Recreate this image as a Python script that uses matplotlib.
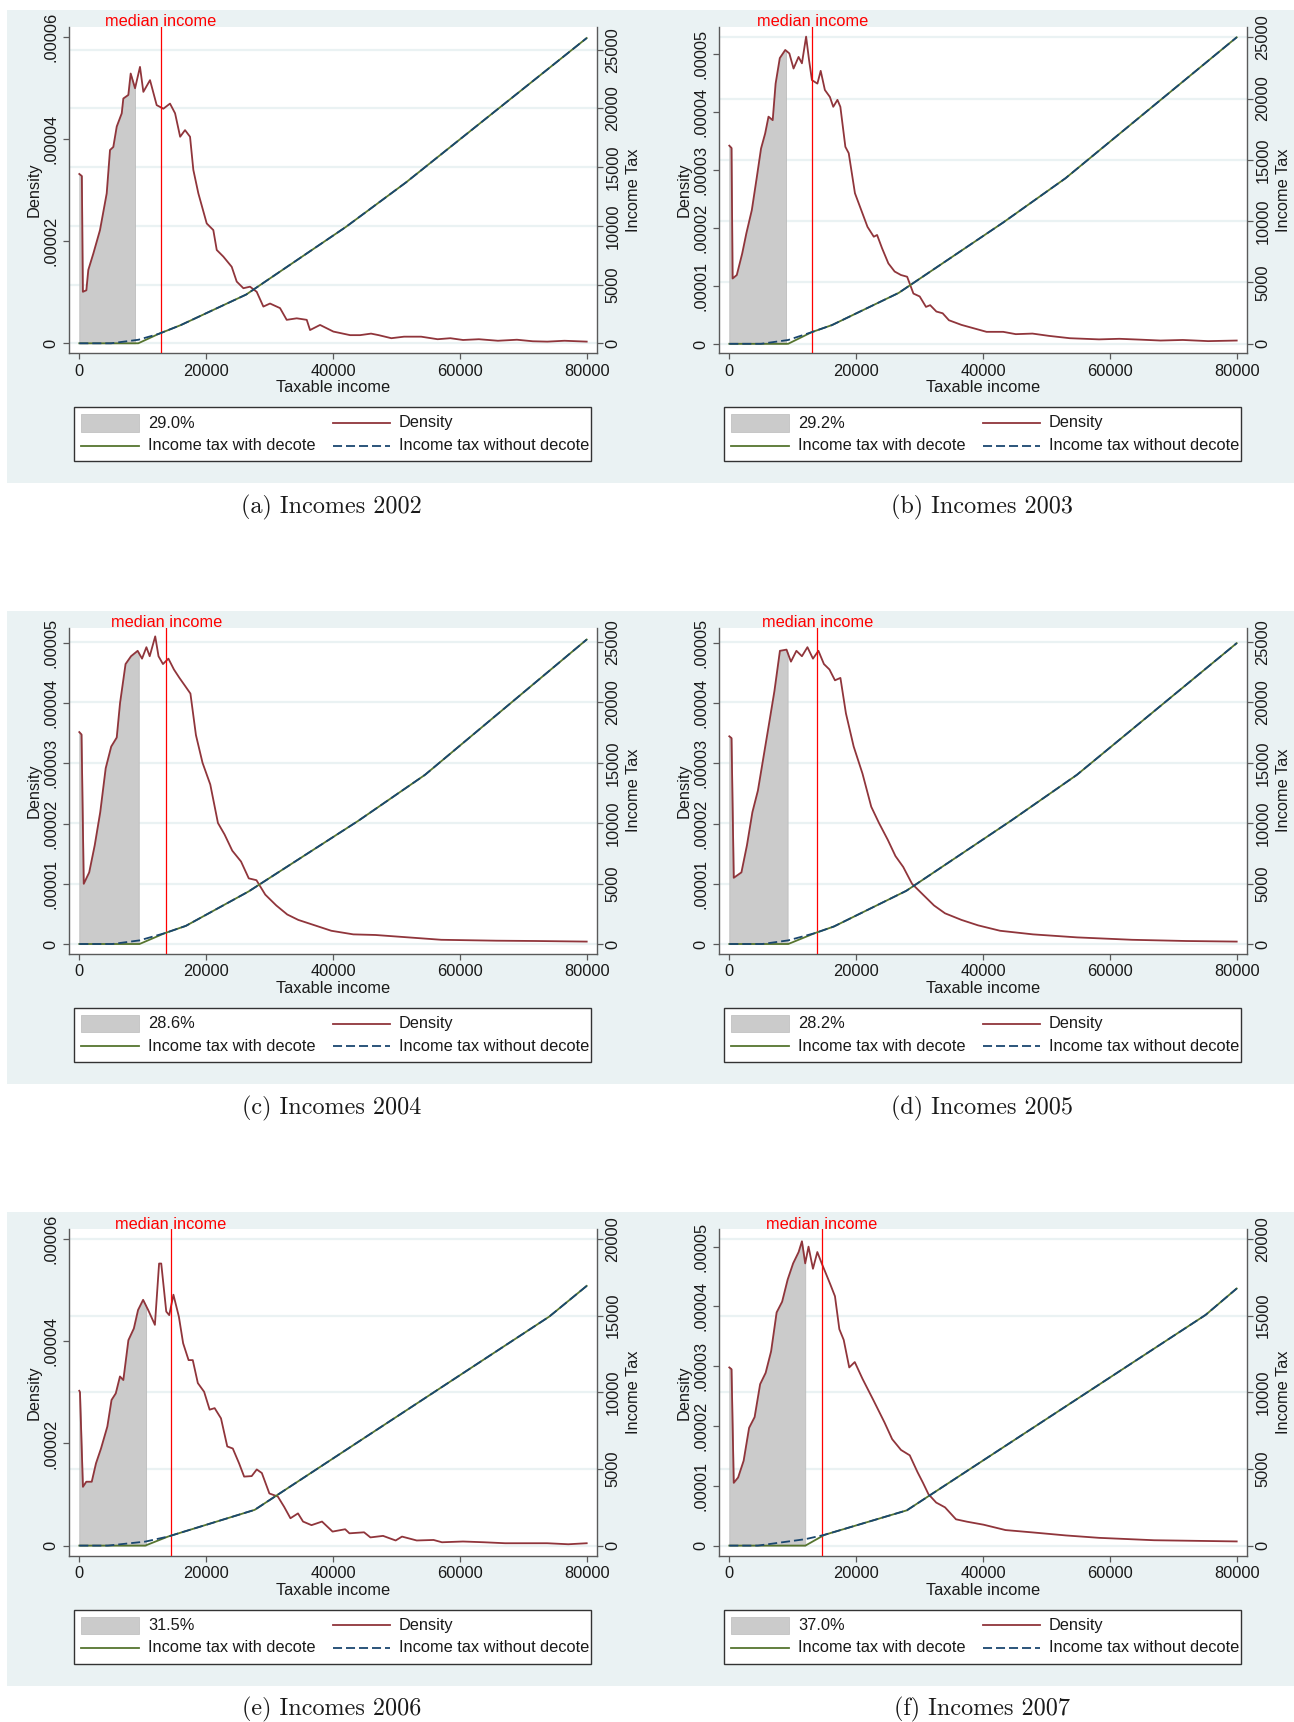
import numpy as np
import matplotlib
matplotlib.use("Agg")
import matplotlib.pyplot as plt
from matplotlib.patches import Rectangle
from matplotlib.lines import Line2D
import matplotlib.transforms as mtransforms

plt.rcParams['font.family'] = ['Liberation Sans', 'DejaVu Sans']

# ---------------- data ----------------
letters = ['a', 'b', 'c', 'd', 'e', 'f']
years = ['2002', '2003', '2004', '2005', '2006', '2007']
shares = ['29.0%', '29.2%', '28.6%', '28.2%', '31.5%', '37.0%']
medians = [12830, 13100, 13700, 13880, 14380, 14570]
thresholds = [8790, 8950, 9370, 9190, 10530, 11970]

# density curves (income, density in 1e-5)
dens_x_a = [0, 400, 560, 1110, 1420, 2210, 3260, 4320, 4840, 5360, 5900, 6690, 6940, 7730, 8100, 8790,
            9570, 10100, 11150, 12200, 13250, 14300, 15100, 15900, 16670, 17460, 17980, 18770, 20090,
            21130, 21670, 22710, 24030, 24820, 25870, 26920, 27970, 29020, 30070, 31650, 32700, 34280,
            35860, 36380, 37960, 40060, 42700, 44270, 46000, 47200, 49200, 51200, 53900, 56500, 58500,
            60500, 63000, 66000, 69000, 71500, 73800, 76500, 80000]
dens_y_a = [3.32, 3.28, 1.01, 1.04, 1.44, 1.76, 2.22, 2.94, 3.79, 3.85, 4.25, 4.51, 4.80, 4.87, 5.29, 5.00,
            5.42, 4.93, 5.16, 4.67, 4.60, 4.70, 4.51, 4.05, 4.18, 4.05, 3.40, 2.94, 2.35,
            2.22, 1.83, 1.70, 1.50, 1.21, 1.08, 1.11, 1.01, 0.72, 0.78, 0.69, 0.46, 0.49,
            0.46, 0.26, 0.36, 0.23, 0.16, 0.16, 0.19, 0.16, 0.10, 0.13, 0.13, 0.08, 0.10,
            0.065, 0.08, 0.05, 0.07, 0.04, 0.033, 0.05, 0.033]

dens_x_b = [0, 350, 520, 1180, 2030, 2690, 3550, 4340, 5000, 5650, 6180, 6840, 7300, 7960, 8820, 9470,
            10130, 10920, 11450, 12110, 12570, 13030, 13890, 14410, 15070, 15860, 16390, 17050, 17510,
            18300, 18830, 19810, 20800, 21790, 22780, 23300, 24090, 25080, 26070, 27060, 28040, 29030,
            30020, 31010, 31670, 32650, 33640, 34630, 36600, 38580, 40560, 43190, 45170, 47800, 50430,
            53700, 58300, 61500, 64900, 68000, 71500, 75500, 80000]
dens_y_b = [3.42, 3.38, 1.13, 1.19, 1.56, 1.91, 2.31, 2.88, 3.37, 3.63, 3.92, 3.86, 4.49, 4.93, 5.07, 5.01,
            4.75, 4.95, 4.84, 5.30, 4.90, 4.55, 4.49, 4.71, 4.38, 4.26, 4.09, 4.21, 4.09,
            3.40, 3.29, 2.60, 2.31, 2.02, 1.85, 1.88, 1.65, 1.39, 1.25, 1.19, 1.16, 0.87,
            0.82, 0.64, 0.67, 0.56, 0.53, 0.41, 0.33, 0.27, 0.21, 0.21, 0.17, 0.18, 0.14,
            0.10, 0.08, 0.09, 0.075, 0.06, 0.07, 0.05, 0.06]

dens_x_c = [0, 350, 700, 1560, 2430, 3300, 4160, 5030, 5900, 6420, 7290, 8150, 9200, 9890, 10580, 11100,
            11970, 12490, 13190, 14050, 14920, 15790, 16660, 17520, 18390, 19430, 20650, 21860, 22900,
            24120, 25500, 26720, 27930, 29320, 31060, 32790, 34530, 37130, 39730, 43200, 46670, 51880,
            57080, 65760, 72000, 80000]
dens_y_c = [3.52, 3.48, 1.00, 1.19, 1.64, 2.19, 2.92, 3.28, 3.43, 4.00, 4.65, 4.78, 4.87, 4.74, 4.93, 4.78,
            5.11, 4.78, 4.65, 4.74, 4.56, 4.42, 4.29, 4.16, 3.47, 3.01, 2.65, 2.01, 1.82,
            1.55, 1.37, 1.09, 1.06, 0.82, 0.64, 0.49, 0.40, 0.31, 0.22, 0.16, 0.15, 0.11,
            0.07, 0.055, 0.05, 0.04]

dens_x_d = [0, 350, 700, 1910, 2780, 3640, 4510, 5380, 6250, 7110, 7980, 9020, 9720, 10580, 11450, 12320,
            13190, 14050, 14920, 15790, 16660, 17520, 18390, 19610, 21000, 22380, 23600, 24990, 26200,
            27420, 28810, 30540, 32280, 34010, 36610, 39220, 42690, 47890, 54830, 63500, 72000, 80000]
dens_y_d = [3.45, 3.42, 1.10, 1.19, 1.64, 2.19, 2.55, 3.10, 3.65, 4.20, 4.87, 4.89, 4.69, 4.87, 4.78, 4.93,
            4.74, 4.87, 4.65, 4.56, 4.38, 4.42, 3.83, 3.28, 2.83, 2.28, 2.01, 1.73, 1.46,
            1.28, 1.00, 0.82, 0.64, 0.51, 0.40, 0.31, 0.22, 0.16, 0.11, 0.07, 0.05, 0.04]

dens_x_e = [0, 104, 570, 1100, 1960, 2630, 3420, 4420, 5080, 5750, 6410, 6940, 7740, 8600, 9260, 10060,
            10860, 11920, 12580, 12920, 13710, 14180, 14840, 15700, 16370, 17230, 17890, 18690, 19680,
            20550, 21340, 22340, 23330, 24200, 25190, 25990, 27180, 27980, 28780, 29970, 31300, 32290,
            33290, 34480, 35280, 36610, 38270, 39930, 41920, 42590, 44900, 45900, 47890, 49880, 50880,
            53200, 55860, 57180, 60500, 63820, 67140, 73780, 77100, 80000]
dens_y_e = [3.03, 3.00, 1.15, 1.25, 1.25, 1.61, 1.90, 2.33, 2.85, 2.98, 3.31, 3.24, 4.02, 4.25, 4.61, 4.81,
            4.61, 4.32, 5.52, 5.52, 4.58, 4.51, 4.91, 4.48, 3.96, 3.63, 3.63, 3.18, 3.01,
            2.66, 2.69, 2.49, 1.94, 1.90, 1.61, 1.35, 1.36, 1.49, 1.42, 1.02, 0.96, 0.76,
            0.535, 0.63, 0.47, 0.40, 0.47, 0.274, 0.32, 0.24, 0.26, 0.16, 0.19, 0.10, 0.176,
            0.10, 0.11, 0.065, 0.08, 0.065, 0.046, 0.046, 0.026, 0.046]

dens_x_f = [0, 350, 700, 1390, 2260, 3120, 3990, 4860, 5730, 6590, 7460, 8330, 9200, 10060, 10930, 11450,
            11970, 12490, 13190, 13880, 14570, 15270, 15960, 16660, 17350, 18040, 18910, 19780, 21000,
            22730, 24470, 25680, 27070, 28450, 29670, 30540, 31400, 32620, 34010, 35740, 37480, 40080,
            43550, 47890, 53090, 58300, 66970, 80000]
dens_y_f = [2.98, 2.95, 1.05, 1.14, 1.42, 1.97, 2.15, 2.70, 2.89, 3.25, 3.90, 4.08, 4.45, 4.72, 4.91, 5.09,
            4.72, 5.00, 4.63, 4.91, 4.72, 4.54, 4.36, 4.17, 3.62, 3.44, 2.98, 3.07, 2.79,
            2.43, 2.06, 1.78, 1.60, 1.51, 1.23, 1.05, 0.86, 0.72, 0.64, 0.44, 0.40, 0.35,
            0.26, 0.22, 0.17, 0.13, 0.09, 0.07]

# income tax with decote
tax_x_a = [0, 9300, 12500, 16000, 26300, 42000, 51500, 80000]
tax_with_a = [0, 0, 800, 1550, 4150, 9900, 13700, 26000]
tax_x_b = [0, 9280, 13000, 16200, 26700, 43200, 53000, 80000]
tax_with_b = [0, 0, 950, 1530, 4150, 9900, 13500, 25000]
tax_x_c = [0, 9500, 13500, 16800, 26700, 44000, 54500, 80000]
tax_with_c = [0, 0, 900, 1500, 4350, 10200, 14000, 25200]
tax_x_d = [0, 9300, 13500, 16500, 27900, 44400, 54800, 80000]
tax_with_d = [0, 0, 900, 1450, 4400, 10200, 14000, 24900]
tax_x_e = [0, 10400, 14000, 27650, 74100, 80000]
tax_with_e = [0, 0, 590, 2330, 14930, 16930]
tax_x_f = [0, 12000, 15000, 28000, 75100, 80000]
tax_with_f = [0, 0, 700, 2300, 15040, 16760]

# income tax without decote (differs only at low incomes)
nod_x_a = [0, 5000, 9300, 12500]
nod_a = [0, 0, 300, 800]
nod_x_b = [0, 5000, 9280, 13000]
nod_b = [0, 0, 310, 950]
nod_x_c = [0, 5200, 9500, 13500]
nod_c = [0, 0, 300, 900]
nod_x_d = [0, 5200, 9300, 13500]
nod_d = [0, 0, 300, 900]
nod_x_e = [0, 4500, 10400, 14000]
nod_e = [0, 0, 260, 590]
nod_x_f = [0, 4500, 12000, 15000]
nod_f = [0, 0, 420, 700]

dens_x = [dens_x_a, dens_x_b, dens_x_c, dens_x_d, dens_x_e, dens_x_f]
dens_y = [dens_y_a, dens_y_b, dens_y_c, dens_y_d, dens_y_e, dens_y_f]
tax_x = [tax_x_a, tax_x_b, tax_x_c, tax_x_d, tax_x_e, tax_x_f]
tax_w = [tax_with_a, tax_with_b, tax_with_c, tax_with_d, tax_with_e, tax_with_f]
nod_x = [nod_x_a, nod_x_b, nod_x_c, nod_x_d, nod_x_e, nod_x_f]
nod_y = [nod_a, nod_b, nod_c, nod_d, nod_e, nod_f]

x_ticks = [0, 20000, 40000, 60000, 80000]
dens_ticks_6 = [0, 2e-5, 4e-5, 6e-5]
dens_labels_6 = ['0', '.00002', '.00004', '.00006']
dens_ticks_5 = [0, 1e-5, 2e-5, 3e-5, 4e-5, 5e-5]
dens_labels_5 = ['0', '.00001', '.00002', '.00003', '.00004', '.00005']
tax_ticks_25 = [0, 5000, 10000, 15000, 20000, 25000]
tax_ticks_20 = [0, 5000, 10000, 15000, 20000]

dens_tick_sets = [6, 5, 5, 5, 6, 5]
tax_tick_sets = [25, 25, 25, 25, 20, 20]

# ---------------- layout (pixels) ----------------
W, H = 1294, 1722
DPI = 100
BG = '#EAF2F3'
MAROON = '#90353B'
GREEN = '#55752F'
NAVY = '#1A476F'
GRAY = '#CBCBCB'
SPINE = '#5A5A5A'
TXT = '#1A1A1A'

dens_lims = [(-1.96e-6, 6.202e-5), (-1.6e-6, 5.466e-5), (-1.66e-6, 5.254e-5),
             (-1.66e-6, 5.254e-5), (-1.96e-6, 6.19e-5), (-1.67e-6, 5.29e-5)]
tax_lims = [(-852, 26942), (-775, 25840), (-828, 26180), (-828, 26180), (-652, 20620), (-652, 20620)]
XLIM = (-1624, 81672)

row_dy = [0, 600.7, 1202.3]
col_dx = [0, 650]

fig = plt.figure(figsize=(W / DPI, H / DPI), dpi=DPI)
fig.patch.set_facecolor('white')


def fx(x):
    return x / W


def fy(y):
    return 1 - y / H


FS = 11.8

for r in range(3):
    dy = row_dy[r]
    fig.add_artist(Rectangle((fx(7), fy(483.3 + dy)), (W - 7) / W, (483.3 - 10) / H,
                             transform=fig.transFigure, facecolor=BG, edgecolor='none', zorder=0))

for i in range(6):
    r, c = divmod(i, 2)
    dx, dy = col_dx[c], row_dy[r]
    L, R, T, B = 69 + dx, 597.3 + dx, 27 + dy, 353.3 + dy
    ax = fig.add_axes([fx(L), fy(B), (R - L) / W, (B - T) / H])
    ax2 = ax.twinx()
    ax.set_zorder(1)
    ax2.set_zorder(2)
    ax.set_facecolor('white')
    ax2.patch.set_visible(False)

    ax.set_xlim(*XLIM)
    ax.set_ylim(*dens_lims[i])
    ax2.set_ylim(*tax_lims[i])

    tt = tax_ticks_25 if tax_tick_sets[i] == 25 else tax_ticks_20
    # grid from right axis, drawn beneath the density
    blend = mtransforms.blended_transform_factory(ax.transAxes, ax2.transData)
    for v in tt:
        ax.add_line(Line2D([0, 1], [v, v], transform=blend, color=BG, lw=1.6, zorder=0.5))

    xd = np.array(dens_x[i], dtype=float)
    yd = np.array(dens_y[i], dtype=float) * 1e-5
    th = thresholds[i]
    m = xd <= th
    fx_ = np.concatenate([xd[m], [th]])
    fy_ = np.concatenate([yd[m], [np.interp(th, xd, yd)]])
    ax.fill_between(fx_, 0, fy_, color=GRAY, lw=0.6, edgecolor='#BDBDBD', zorder=1)
    ax.plot(xd, yd, color=MAROON, lw=1.3, zorder=2, solid_joinstyle='round')
    ax.axvline(medians[i], color='red', lw=0.9, zorder=3)
    ax.text(medians[i], 1.002, 'median income', color='red', fontsize=FS, ha='center', va='baseline',
            transform=mtransforms.blended_transform_factory(ax.transData, ax.transAxes), clip_on=False)

    # taxes
    txw = np.array(tax_x[i], dtype=float)
    tyw = np.array(tax_w[i], dtype=float)
    nx = np.array(nod_x[i], dtype=float)
    ny = np.array(nod_y[i], dtype=float)
    k = txw > nx[-1]
    wx = np.concatenate([nx, txw[k]])
    wy = np.concatenate([ny, tyw[k]])
    ax2.plot(txw, tyw, color=GREEN, lw=1.3, zorder=2)
    ax2.plot(wx, wy, color=NAVY, lw=1.3, ls=(0, (5, 2.2)), zorder=3)

    # ticks
    ax.set_xticks(x_ticks)
    ax.set_xticklabels([str(v) for v in x_ticks])
    if dens_tick_sets[i] == 6:
        ax.set_yticks(dens_ticks_6)
        ax.set_yticklabels(dens_labels_6)
    else:
        ax.set_yticks(dens_ticks_5)
        ax.set_yticklabels(dens_labels_5)
    ax2.set_yticks(tt)
    ax2.set_yticklabels([str(v) for v in tt])

    for a_ in (ax, ax2):
        for s in a_.spines.values():
            s.set_color(SPINE)
            s.set_linewidth(1.0)
        a_.spines['top'].set_visible(False)
    ax.spines['right'].set_visible(False)
    ax2.spines['left'].set_visible(False)
    ax2.spines['bottom'].set_visible(False)

    ax.tick_params(axis='x', direction='out', length=4.3, width=0.9, color=SPINE, labelsize=FS,
                   labelcolor=TXT, pad=3.2)
    ax.tick_params(axis='y', direction='out', length=4.3, width=0.9, color=SPINE, labelsize=FS,
                   labelcolor=TXT, pad=3.5, labelrotation=90)
    ax2.tick_params(axis='y', direction='out', length=4.3, width=0.9, color=SPINE, labelsize=FS,
                    labelcolor=TXT, pad=1.5, labelrotation=90)
    for lbl in ax.get_yticklabels():
        lbl.set_verticalalignment('center')
    for lbl in ax2.get_yticklabels():
        lbl.set_verticalalignment('center')

    # axis titles
    fig.text(fx(34 + dx), fy(190 + dy), 'Density', rotation=90, ha='center', va='center', fontsize=FS, color=TXT)
    fig.text(fx(633 + dx), fy(190 + dy), 'Income Tax', rotation=90, ha='center', va='center', fontsize=FS, color=TXT)
    fig.text(fx(333 + dx), fy(388 + dy), 'Taxable income', ha='center', va='center', fontsize=FS, color=TXT)

    # legend (manual)
    fig.add_artist(Rectangle((fx(74.3 + dx), fy(461.3 + dy)), (591 - 74.3) / W, (461.3 - 407.3) / H,
                             transform=fig.transFigure, facecolor='white', edgecolor='#333333', lw=1.0, zorder=3))
    fig.add_artist(Rectangle((fx(81 + dx), fy(431.7 + dy)), (139.3 - 81) / W, (431.7 - 414.3) / H,
                             transform=fig.transFigure, facecolor=GRAY, edgecolor='#C2C2C2', lw=0.6, zorder=4))
    fig.add_artist(Line2D([fx(81 + dx), fx(139.3 + dx)], [fy(445.7 + dy)] * 2, transform=fig.transFigure,
                          color=GREEN, lw=1.3, zorder=4))
    fig.add_artist(Line2D([fx(333 + dx), fx(390 + dx)], [fy(423 + dy)] * 2, transform=fig.transFigure,
                          color=MAROON, lw=1.3, zorder=4))
    fig.add_artist(Line2D([fx(333 + dx), fx(390 + dx)], [fy(445.7 + dy)] * 2, transform=fig.transFigure,
                          color=NAVY, lw=1.3, ls=(0, (5, 2.2)), zorder=4))
    fig.text(fx(148.3 + dx), fy(423 + dy), shares[i], ha='left', va='center', fontsize=FS, color=TXT, zorder=5)
    fig.text(fx(148.3 + dx), fy(445.7 + dy), 'Income tax with decote', ha='left', va='center', fontsize=FS,
             color=TXT, zorder=5)
    fig.text(fx(398.8 + dx), fy(423 + dy), 'Density', ha='left', va='center', fontsize=FS, color=TXT, zorder=5)
    fig.text(fx(398.8 + dx), fy(445.7 + dy), 'Income tax without decote', ha='left', va='center', fontsize=FS,
             color=TXT, zorder=5)

    # caption
    fig.text(fx(331.7 + dx), fy(507.3 + dy), '(%s) Incomes %s' % (letters[i], years[i]), family='cmr10',
             fontsize=17.4, ha='center', va='center', color=TXT)

fig.savefig('out.png', dpi=DPI, facecolor='white')
